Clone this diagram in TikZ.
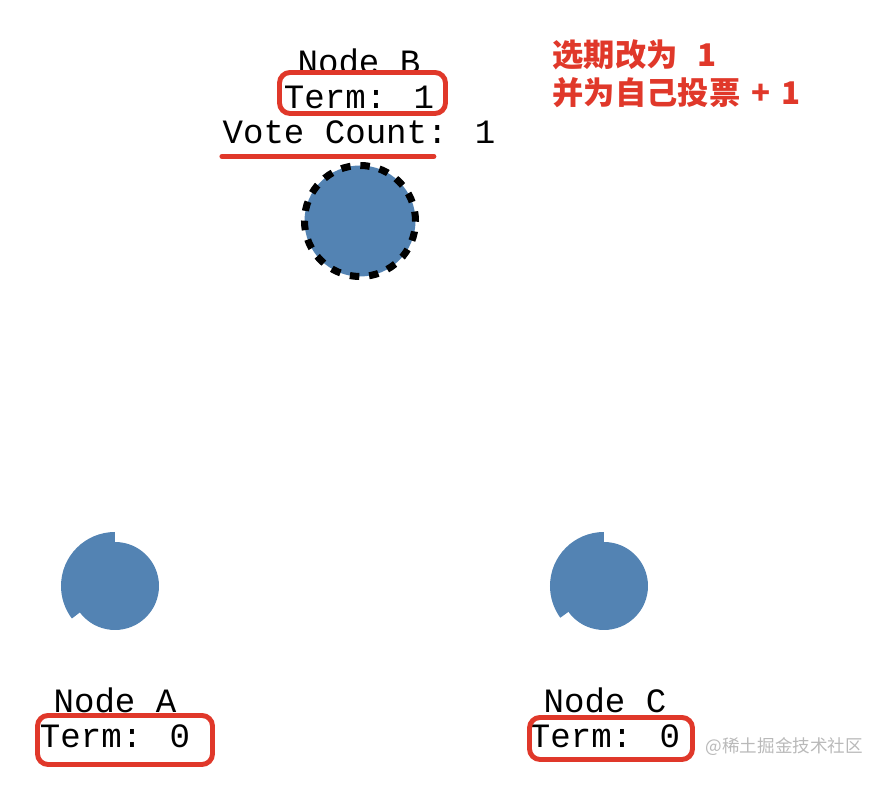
\documentclass[tikz,border=0pt]{standalone}
\usepackage{fontspec}
\usepackage{tikz}
\usetikzlibrary{positioning, calc}
\newfontfamily\monofont{Liberation Mono}
\newfontfamily\cjkfont{Noto Sans CJK SC}
\definecolor{steelblue}{RGB}{83, 131, 179}
\definecolor{markred}{RGB}{224, 56, 42}
\definecolor{wmgray}{RGB}{185, 185, 185}

\begin{document}
\begin{tikzpicture}[
  srv/.style={circle, fill=steelblue, inner sep=0pt, minimum size=#1},
  cand/.style={srv=1.11cm, draw=black, line width=2pt,
               dash pattern=on 2.7pt off 2.8pt},
  info/.style={font=\fontsize{9.7}{9.7}\monofont, inner sep=0pt,
               text height=6.9pt, text depth=2.6pt},
  hlbox/.style={rectangle, rounded corners=3pt, draw=markred,
                line width=1.4pt, inner sep=0pt},
  hlline/.style={draw=markred, line width=1.4pt, line cap=round},
  note/.style={font=\fontsize{8.9}{10}\cjkfont\bfseries, text=markred, inner sep=0pt}
]
  \useasboundingbox (0,0) rectangle (8.88,-7.86);

  %% Servers
  \node[srv=0.88cm] (na) at (1.15,-5.86) {};
  \node[srv=0.88cm] (nc) at (6.04,-5.86) {};
  \node[cand] (nb) at (3.60,-2.21) {};

  %% Election timeout wedges
  \fill[steelblue] (na.center) -- ++(90:0.54)
    arc[start angle=90, end angle=217, radius=0.54] -- cycle;
  \fill[steelblue] (nc.center) -- ++(90:0.54)
    arc[start angle=90, end angle=216, radius=0.54] -- cycle;

  %% Server labels
  \node[info, anchor=base] (nbname) at (3.59,-0.74) {Node B};
  \node[info, below=0pt of nbname] (nbterm) {Term: 1};
  \node[info, below=0pt of nbterm] (nbvote) {Vote Count: 1};

  \node[info, anchor=base] (naname) at (1.15,-7.13) {Node A};
  \node[info, below=0pt of naname] (naterm) {Term: 0};

  \node[info, anchor=base] (ncname) at (6.05,-7.13) {Node C};
  \node[info, below=0pt of ncname] (ncterm) {Term: 0};

  %% Highlights
  \node[hlbox, minimum width=1.66cm, minimum height=0.41cm] (nbbox) at (3.625,-0.93) {};
  \node[hlbox, minimum width=1.75cm, minimum height=0.49cm] (nabox) at (1.25,-7.40) {};
  \node[hlbox, minimum width=1.63cm, minimum height=0.42cm] (ncbox) at (6.11,-7.385) {};
  \draw[hlline] ([yshift=-0.03cm]nbvote.south west) -- ++(2.12,0);

  %% Note
  \node[note, anchor=base west] (note1) at (5.52,-0.665) {选期改为\hspace{0.2cm}1};
  \node[note, anchor=base west] (note2) at (5.52,-1.045)
    {并为自己投票\hspace{0.11cm}+\hspace{0.11cm}1};

  \node[font=\fontsize{5}{6}\cjkfont, text=wmgray, anchor=west, inner sep=0pt]
    (wm) at (7.05,-7.47) {@稀土掘金技术社区};
\end{tikzpicture}
\end{document}
